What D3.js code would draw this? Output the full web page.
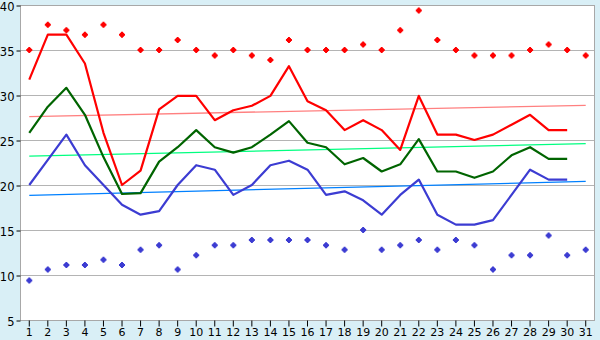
<!DOCTYPE html>
<html><head><meta charset="utf-8">
<script src="https://cdn.jsdelivr.net/npm/d3@7"></script>
<style>
html,body{margin:0;padding:0;background:#d9eff6;}
svg{display:block;}
text{font-family:"DejaVu Sans",Verdana,sans-serif;font-size:11px;fill:#000;}
</style></head><body>
<svg id="c" width="600" height="340"></svg>
<script>
const days = d3.range(1, 32).map(String);
const yTicks = [5,10,15,20,25,30,35,40];
const avgMax = [31.7,36.7,36.7,33.5,25.8,20.0,21.6,28.4,29.9,29.9,27.2,28.3,28.8,29.9,33.2,29.3,28.3,26.1,27.2,26.1,23.9,29.9,25.6,25.6,25.0,25.6,26.7,27.8,26.1,26.1,null];
const avgMean = [25.8,28.7,30.8,27.8,23.1,19.0,19.1,22.6,24.2,26.1,24.2,23.6,24.2,25.6,27.1,24.7,24.2,22.3,23.0,21.5,22.3,25.1,21.5,21.5,20.8,21.5,23.3,24.2,22.9,22.9,null];
const avgMin = [20.0,22.8,25.6,22.2,20.0,17.8,16.7,17.1,20.0,22.2,21.7,18.9,20.0,22.2,22.7,21.7,18.9,19.3,18.3,16.7,18.9,20.6,16.7,15.6,15.6,16.1,18.9,21.7,20.6,20.6,null];
const recMax = [35.0,37.8,37.2,36.7,37.8,36.7,35.0,35.0,36.1,35.0,34.4,35.0,34.4,33.9,36.1,35.0,35.0,35.0,35.6,35.0,37.2,39.4,36.1,35.0,34.4,34.4,34.4,35.0,35.6,35.0,34.4];
const recMin = [9.4,10.6,11.1,11.1,11.7,11.1,12.8,13.3,10.6,12.2,13.3,13.3,13.9,13.9,13.9,13.9,13.3,12.8,15.0,12.8,13.3,13.9,12.8,13.9,13.3,10.6,12.2,12.2,14.4,12.2,12.8];
const trendMax = [27.6,28.85];
const trendMean = [23.2,24.6];
const trendMin = [18.85,20.4];

const svg = d3.select("#c");
const L=20, R=595, T=5, B=320;
svg.append("rect").attr("x",L).attr("y",T).attr("width",R-L).attr("height",B-T).attr("fill","#fff");
const x = d3.scaleBand().domain(days).range([L,R]);
const cx = d => x(d)+x.bandwidth()/2;
const y = d3.scaleLinear().domain([5,40]).range([B,T]);

// grid
svg.append("g").selectAll("line").data(yTicks).join("line")
  .attr("x1",L).attr("x2",R).attr("y1",d=>y(d)+0.5).attr("y2",d=>y(d)+0.5)
  .attr("stroke","#b4b4b4").attr("stroke-width",1);
// frame
svg.append("rect").attr("x",L+0.5).attr("y",T+0.5).attr("width",R-L-1).attr("height",B-T).attr("fill","none").attr("stroke","#a8a8a8");

// axes
const ya = svg.append("g").attr("transform",`translate(${L+0.5},0)`)
  .call(d3.axisLeft(y).tickValues(yTicks).tickSize(4).tickPadding(2).tickFormat(d3.format("d")));
ya.select(".domain").remove();
ya.selectAll("line").attr("stroke","#000").attr("transform","translate(0,0.5)");
ya.selectAll("text").style("font-size","11.5px").attr("dy","0.45em");
const xa = svg.append("g").attr("transform",`translate(0,${B+0.5})`)
  .call(d3.axisBottom(x).tickSize(6).tickPadding(2));
xa.select(".domain").remove();
xa.selectAll("line").attr("stroke","#000");
xa.selectAll("text").style("font-size","11px");

// trend lines
const trends = [[trendMax,"#ff8080"],[trendMean,"#00ff80"],[trendMin,"#0080ff"]];
trends.forEach(([t,c])=>{
  svg.append("line").attr("x1",cx(days[0])).attr("x2",cx(days[30]))
    .attr("y1",y(t[0])).attr("y2",y(t[1])).attr("stroke",c).attr("stroke-width",1.3);
});

// lines
const line = d3.line().defined(d=>d.v!=null).x(d=>cx(d.k)).y(d=>y(d.v));
const series = [[avgMin,"#3c3cd2"],[avgMean,"#006400"],[avgMax,"#ff0000"]];
series.forEach(([s,c])=>{
  svg.append("path").datum(s.map((v,i)=>({k:days[i],v})))
    .attr("d",line).attr("fill","none").attr("stroke",c).attr("stroke-width",2.2).attr("stroke-linejoin","round");
});

// markers
const mk = "M-1,-3h2v1h1v1h1v2h-1v1h-1v1h-2v-1h-1v-1h-1v-2h1v-1h1z";
[[recMax,"#ff0000"],[recMin,"#3c3cd2"]].forEach(([s,c])=>{
  svg.append("g").selectAll("path").data(s.map((v,i)=>({k:days[i],v}))).join("path")
    .attr("d",mk).attr("fill",c)
    .attr("transform",d=>`translate(${cx(d.k)},${y(d.v)})`);
});
</script>
</body></html>
